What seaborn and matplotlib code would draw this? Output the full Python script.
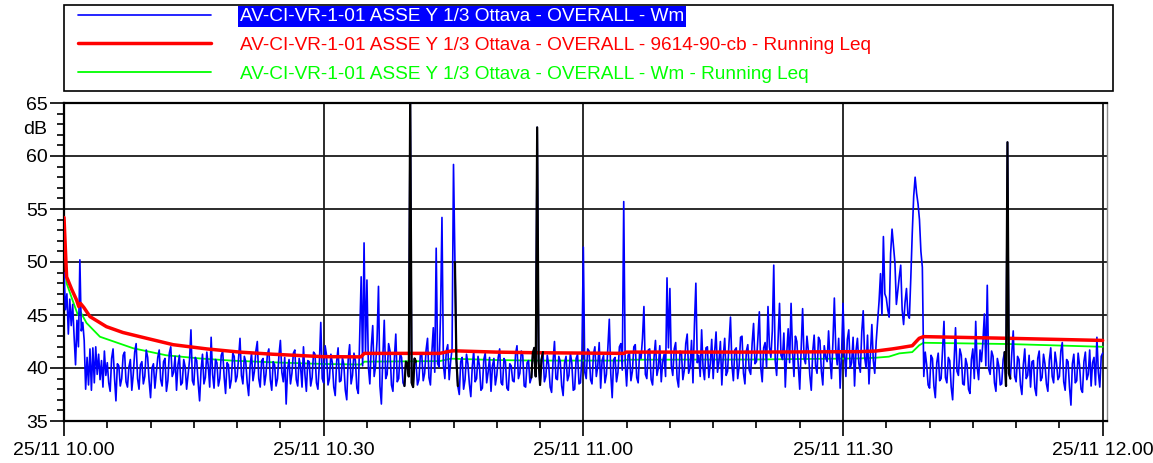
import matplotlib

matplotlib.use("Agg")
import matplotlib.dates as mdates
import matplotlib.pyplot as plt
import pandas as pd
import seaborn as sns
from matplotlib.patches import Rectangle
from matplotlib.ticker import MultipleLocator

START = "2019-11-25 10:00:00"
STEP = "10s"

# Wm level, one reading every 10 s from 10.00 to 12.00 (dB), one row = 5 minutes
wm_level = [
    49.0, 45.5, 47.0, 43.2, 46.5, 44.0, 46.0, 43.0, 40.3, 44.5, 42.0, 50.2, 43.5, 44.3, 42.6,
    38.0, 41.0, 38.4, 41.8, 37.9, 41.9, 38.6, 42.0, 39.4, 41.3, 38.9, 40.7, 38.2, 41.6, 39.3,
    40.5, 38.6, 37.8, 40.9, 41.8, 39.1, 36.9, 40.4, 40.2, 38.3, 39.0, 41.2, 41.5, 38.7, 38.2,
    40.1, 40.8, 37.9, 39.4, 41.5, 42.3, 39.0, 38.0, 40.3, 40.6, 38.5, 39.2, 41.7, 41.0, 38.8,
    37.2, 40.0, 40.4, 38.1, 39.5, 41.0, 41.7, 38.9, 38.3, 40.6, 40.9, 37.8, 38.8, 41.4, 42.0,
    39.2, 39.6, 41.1, 37.9, 40.3, 41.2, 38.4, 38.6, 40.8, 40.1, 38.0, 39.3, 40.7, 43.6, 38.8,
    38.4, 41.0, 40.7, 38.6, 36.9, 39.8, 41.3, 38.5, 39.1, 41.5, 40.2, 38.2, 42.9, 39.4, 38.1,
    40.8, 40.5, 38.3, 39.0, 41.2, 41.6, 39.2, 37.6, 40.5, 40.3, 38.1, 38.9, 41.4, 41.1, 38.7,
    39.2, 40.9, 42.8, 39.3, 38.5, 41.1, 40.6, 38.6, 37.4, 40.2, 41.4, 38.8, 39.7, 41.6, 42.5,
    39.0, 38.2, 40.7, 40.9, 38.4, 39.4, 41.3, 41.8, 38.9, 37.9, 40.6, 40.3, 38.3, 39.0, 41.2,
    42.6, 39.6, 38.7, 41.0, 36.6, 39.9, 40.8, 38.5, 39.5, 41.4, 41.7, 38.9, 38.3, 40.9, 40.1,
    38.2, 42.0, 39.4, 37.8, 40.7, 40.6, 38.3, 39.1, 41.5, 41.3, 38.6, 38.0, 40.4, 44.3, 39.0,
    38.6, 42.1, 41.2, 38.4, 39.0, 41.3, 40.5, 38.2, 37.4, 40.6, 41.9, 38.7, 38.8, 41.0, 40.3,
    37.9, 37.0, 40.8, 42.2, 38.5, 39.3, 41.4, 40.7, 38.1, 37.6, 43.0, 48.6, 40.2, 51.8, 41.5,
    48.3, 40.1, 38.5, 42.0, 44.0, 39.2, 40.2, 42.6, 47.7, 38.3, 36.6, 41.0, 44.5, 39.0, 39.4,
    42.3, 41.6, 38.4, 37.8, 40.9, 43.2, 38.7, 39.0, 41.4, 41.0, 38.6, 38.3, 40.6, 40.4, 39.2,
    66.0, 38.6, 38.2, 40.9, 40.6, 38.4, 38.9, 41.2, 41.3, 38.8, 39.5, 41.7, 42.8, 39.1, 38.4,
    41.5, 43.8, 39.6, 51.3, 40.4, 40.1, 45.0, 54.2, 40.3, 39.0, 41.6, 42.2, 38.9, 40.6, 41.8,
    59.2, 50.0, 40.8, 38.3, 37.5, 40.6, 41.0, 38.0, 38.9, 41.3, 40.4, 38.5, 37.3, 40.1, 41.6,
    38.7, 39.0, 41.1, 40.2, 37.9, 38.1, 40.8, 41.4, 38.6, 39.6, 41.0, 37.8, 40.2, 40.9, 38.4,
    39.3, 41.0, 41.8, 38.6, 38.4, 40.9, 40.6, 38.1, 37.9, 40.4, 40.2, 38.8, 38.7, 41.3, 42.1,
    39.0, 39.5, 41.6, 41.2, 38.3, 38.2, 40.5, 40.7, 38.6, 39.1, 41.4, 41.9, 39.2, 62.7, 40.6,
    38.4, 40.8, 41.5, 38.7, 39.2, 41.2, 40.3, 38.2, 37.7, 40.6, 42.5, 39.0, 38.9, 41.1, 40.6,
    38.3, 37.4, 40.5, 41.1, 38.8, 39.3, 41.4, 40.5, 37.9, 38.0, 40.9, 41.3, 38.5, 38.6, 41.0,
    51.4, 39.6, 39.0, 41.8, 41.6, 38.9, 38.5, 41.3, 42.0, 39.2, 40.2, 42.4, 38.1, 40.7, 41.2,
    38.6, 39.4, 41.9, 44.6, 39.5, 37.2, 40.8, 41.0, 38.7, 39.6, 42.0, 42.3, 39.8, 55.7, 40.5,
    38.3, 41.2, 41.4, 38.8, 39.7, 42.0, 42.2, 39.1, 38.6, 41.5, 40.9, 42.8, 45.8, 39.4, 39.0,
    41.7, 41.8, 38.9, 38.4, 41.0, 42.6, 39.3, 40.0, 42.1, 38.7, 40.6, 41.3, 39.2, 48.5, 41.9,
    47.5, 40.2, 39.3, 41.8, 42.4, 39.0, 38.2, 41.6, 41.5, 38.9, 39.8, 42.3, 43.2, 39.5, 40.1,
    42.6, 38.6, 44.0, 48.0, 40.5, 41.2, 39.2, 43.6, 40.0, 38.9, 41.9, 42.0, 39.1, 40.4, 42.7,
    39.0, 41.5, 43.4, 39.6, 40.6, 42.5, 38.4, 41.1, 42.8, 39.3, 39.7, 42.4, 44.8, 40.3, 38.8,
    41.7, 41.9, 39.0, 40.2, 42.9, 43.0, 39.5, 38.5, 41.6, 42.2, 39.8, 39.4, 42.3, 44.2, 40.4,
    40.6, 42.8, 45.3, 40.0, 38.7, 41.9, 42.4, 40.1, 45.8, 42.0, 41.0, 43.5, 49.7, 40.7, 39.3,
    42.6, 46.1, 41.2, 40.8, 43.3, 38.2, 41.4, 43.7, 40.5, 46.1, 41.6, 39.2, 43.0, 42.5, 40.2,
    38.0, 41.8, 45.6, 40.9, 40.4, 43.0, 41.6, 39.3, 37.9, 41.5, 43.1, 40.2, 39.5, 42.9, 42.6,
    39.7, 38.4, 42.1, 41.0, 40.6, 43.5, 40.8, 39.0, 42.4, 46.6, 41.7, 40.3, 42.8, 38.1, 41.3,
    46.1, 41.5, 39.2, 42.7, 43.6, 40.0, 40.5, 42.9, 38.3, 41.6, 42.8, 40.4, 39.6, 43.4, 45.4,
    41.0, 40.0, 43.1, 38.5, 41.2, 44.1, 40.7, 39.5, 42.5, 44.4, 46.3, 48.9, 45.0, 52.4, 47.0,
    46.6, 45.5, 44.8, 50.8, 53.1, 51.5, 49.9, 46.0, 47.3, 48.6, 49.7, 45.5, 44.1, 46.2, 47.5,
    45.0, 44.7, 48.5, 52.7, 56.2, 58.0, 56.5, 55.5, 54.0, 51.0, 49.5, 39.2, 41.5, 40.3, 38.4,
    38.1, 41.2, 40.9, 38.3, 37.2, 40.5, 41.4, 38.8, 39.0, 41.6, 44.4, 39.1, 38.6, 41.0, 40.7,
    38.2, 37.0, 40.6, 43.8, 39.7, 39.3, 41.8, 41.2, 38.5, 38.4, 40.9, 40.3, 38.0, 37.6, 40.8,
    41.8, 39.0, 44.4, 40.1, 38.9, 41.7, 40.6, 42.5, 45.1, 40.2, 47.8, 39.9, 39.4, 41.6, 41.1,
    38.6, 37.8, 40.9, 40.2, 38.4, 38.5, 40.8, 41.5, 38.3, 61.3, 39.5, 39.0, 41.4, 43.5, 39.2,
    38.7, 41.1, 40.8, 38.4, 37.5, 40.3, 41.8, 39.0, 39.3, 41.2, 38.2, 40.6, 40.7, 38.1, 37.4,
    40.9, 41.6, 38.8, 39.1, 41.3, 40.4, 38.5, 37.8, 40.7, 41.9, 39.2, 38.6, 41.5, 40.5, 38.9,
    39.2, 41.6, 42.4, 38.7, 37.9, 40.8, 40.6, 38.2, 36.5, 40.4, 41.3, 38.6, 38.8, 41.4, 40.2,
    38.0, 37.7, 40.6, 41.5, 38.9, 39.4, 41.7, 38.3, 40.5, 41.0, 38.4, 42.9, 39.6, 38.2, 41.1,
    41.4,
]
assert len(wm_level) == 721

# marked stretches, drawn in black over the Wm trace
event_from = ["10:39:20", "10:45:10", "10:54:00", "11:48:40"]
event_to = ["10:40:40", "10:45:30", "10:55:20", "11:49:20"]

# running Leq of 9614-90-cb: minutes after 10.00 -> dB
leq_cb_min = [0, 0.3, 0.9, 1.46, 1.7, 1.9, 2.3, 3.0, 4.9, 6.8, 8.8, 12.6, 16.5,
              20.3, 24.1, 29.9, 34.3, 34.7, 43.4, 44.7, 45.1, 49.9, 54.5, 64.7,
              64.9, 79.5, 91.8, 93.8, 95.7, 96.5, 98.0, 98.8, 99.3, 109.2, 120.0]
leq_cb_db = [54.2, 48.6, 47.4, 46.4, 45.8, 46.1, 45.7, 44.85, 43.9, 43.35, 42.95,
             42.2, 41.8, 41.5, 41.3, 41.07, 41.05, 41.38, 41.38, 41.6, 41.62, 41.5,
             41.44, 41.38, 41.5, 41.5, 41.54, 41.6, 41.8, 41.9, 42.1, 42.8, 42.96,
             42.8, 42.6]

# running Leq of Wm
leq_wm_min = [0, 0.3, 0.9, 1.6, 1.9, 2.6, 4.15, 8.0, 11.8, 15.7, 19.5, 25.3, 29.9,
              34.3, 34.7, 43.4, 44.7, 49.9, 54.5, 64.7, 64.9, 79.5, 91.8, 93.8,
              95.3, 96.5, 98.0, 98.8, 99.3, 109.2, 120.0]
leq_wm_db = [51.4, 48.0, 46.6, 45.0, 45.3, 44.25, 42.95, 41.86, 41.2, 40.9, 40.69,
             40.5, 40.38, 40.33, 40.6, 40.65, 40.88, 40.75, 40.7, 40.7, 40.78, 40.8,
             40.9, 40.97, 41.07, 41.38, 41.5, 42.14, 42.38, 42.26, 42.0]

LABELS = [
    "AV-CI-VR-1-01 ASSE Y 1/3 Ottava - OVERALL - Wm",
    "AV-CI-VR-1-01 ASSE Y 1/3 Ottava - OVERALL - 9614-90-cb - Running Leq",
    "AV-CI-VR-1-01 ASSE Y 1/3 Ottava - OVERALL - Wm - Running Leq",
]

sns.set_theme(style="ticks", rc={"text.color": "black", "xtick.color": "black",
                                 "ytick.color": "black", "axes.edgecolor": "black"})
plt.rcParams["font.family"] = ["Liberation Sans", "DejaVu Sans"]

t0 = pd.Timestamp(START)
wm = pd.DataFrame({"time": pd.date_range(t0, periods=len(wm_level), freq=STEP),
                   "db": wm_level})
cb = pd.DataFrame({"time": t0 + pd.to_timedelta(leq_cb_min, unit="min"), "db": leq_cb_db})
wl = pd.DataFrame({"time": t0 + pd.to_timedelta(leq_wm_min, unit="min"), "db": leq_wm_db})
day = t0.strftime("%Y-%m-%d ")

fig = plt.figure(figsize=(11.53, 4.63), dpi=100)
ax = fig.add_axes([64 / 1153, 42 / 463, 1043 / 1153, 318 / 463])

sns.lineplot(data=wl, x="time", y="db", color="#00ff00", lw=1.3, estimator=None,
             legend=False, ax=ax, zorder=2)
sns.lineplot(data=wm, x="time", y="db", color="#0000ff", lw=1.2, estimator=None,
             legend=False, ax=ax, zorder=3)
sns.lineplot(data=cb, x="time", y="db", color="#ff0000", lw=2.5, estimator=None,
             legend=False, ax=ax, zorder=4)
green, blue, red = ax.lines[:3]

for a, b in zip(event_from, event_to):
    seg = wm[(wm["time"] >= pd.Timestamp(day + a)) & (wm["time"] <= pd.Timestamp(day + b))]
    sns.lineplot(data=seg, x="time", y="db", color="black", lw=1.6, estimator=None,
                 legend=False, ax=ax, zorder=5)

ax.set_xlim(t0, t0 + pd.Timedelta(minutes=120.5))
ax.set_ylim(35, 65)
ax.set_xlabel("")
ax.set_ylabel("")

ax.xaxis.set_major_locator(mdates.MinuteLocator(byminute=[0, 30]))
ax.xaxis.set_minor_locator(mdates.MinuteLocator(byminute=range(0, 60, 5)))
ax.xaxis.set_major_formatter(mdates.DateFormatter("%d/%m %H.%M"))
ax.yaxis.set_major_locator(MultipleLocator(5))
ax.yaxis.set_minor_locator(MultipleLocator(1))

ax.tick_params(axis="both", which="both", direction="out", labelsize=14, width=1.2)
ax.tick_params(axis="x", which="major", length=11, pad=4)
ax.tick_params(axis="y", which="major", length=10, pad=1.5)
ax.tick_params(axis="both", which="minor", length=5)

ax.grid(True, which="major", color="#1a1a1a", lw=1.3)
ax.set_axisbelow(True)
for side in ("left", "bottom", "top"):
    ax.spines[side].set_linewidth(1.6)
ax.spines["right"].set_color("#8c8c8c")
ax.spines["right"].set_linewidth(1.0)

ax.text(-0.016, 62.5, "dB", fontsize=14, ha="right", va="center",
        transform=ax.get_yaxis_transform())

leg = ax.legend([blue, red, green], LABELS, loc="upper left",
                bbox_to_anchor=(78 / 1153, 1 - 8 / 463), bbox_transform=fig.transFigure,
                frameon=False, fontsize=13.7, handlelength=7.0, handletextpad=1.5,
                labelspacing=0.6, borderpad=0, borderaxespad=0, labelcolor="linecolor")
first = leg.get_texts()[0]
first.set_color("white")
first.set_bbox(dict(facecolor="#0000ff", edgecolor="none", pad=1.5))

fig.add_artist(Rectangle((64 / 1153, 1 - 91 / 463), 1049 / 1153, 86 / 463,
                         transform=fig.transFigure, fill=False, ec="black", lw=1.2))

fig.savefig("out.png", dpi=100)
